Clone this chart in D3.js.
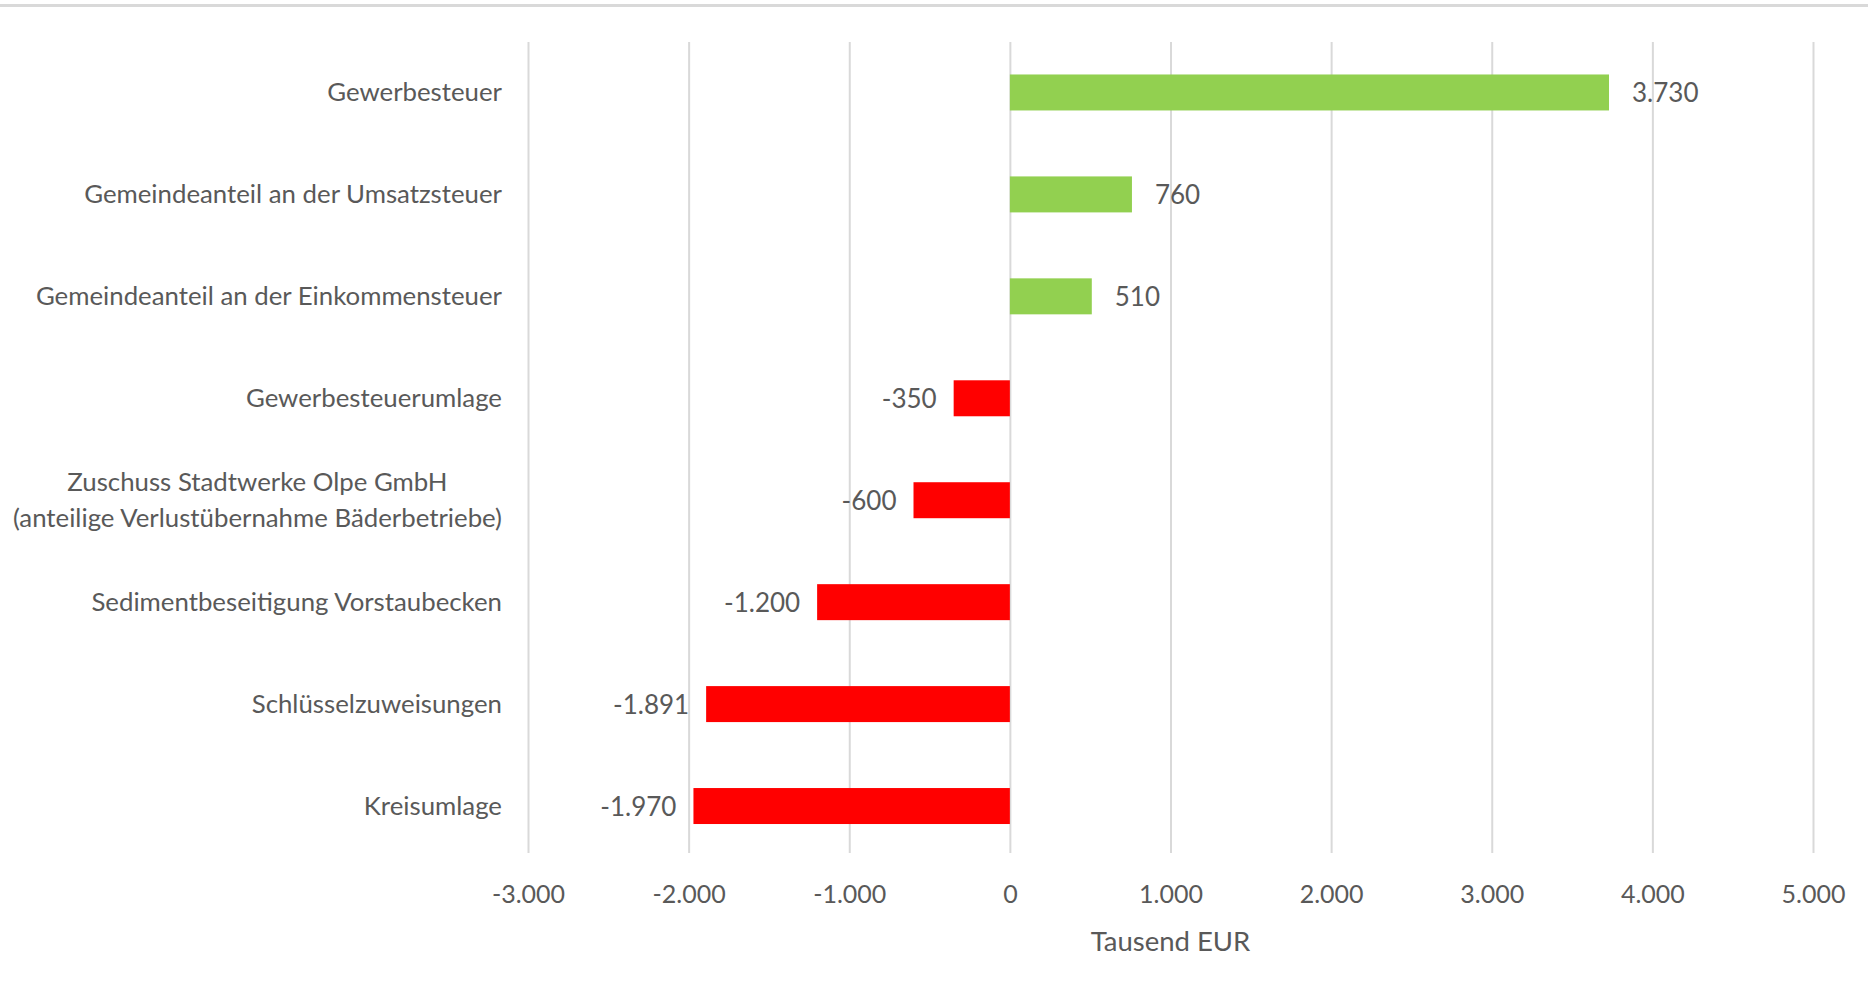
<!DOCTYPE html>
<html><head><meta charset="utf-8">
<script src="https://cdn.jsdelivr.net/npm/d3@7"></script>
<style>
html,body{margin:0;padding:0;background:#fff;}
svg{display:block;}
text{font-family:Lato,"Open Sans",sans-serif;fill:#595959;}
</style></head>
<body>
<svg id="chart" width="1868" height="995"></svg>
<script>
const categories = [
  ["Gewerbesteuer"],
  ["Gemeindeanteil an der Umsatzsteuer"],
  ["Gemeindeanteil an der Einkommensteuer"],
  ["Gewerbesteuerumlage"],
  ["Zuschuss Stadtwerke Olpe GmbH", "(anteilige Verlustübernahme Bäderbetriebe)"],
  ["Sedimentbeseitigung Vorstaubecken"],
  ["Schlüsselzuweisungen"],
  ["Kreisumlage"]
];
const values = [3730, 760, 510, -350, -600, -1200, -1891, -1970];
const xTicks = [-3000, -2000, -1000, 0, 1000, 2000, 3000, 4000, 5000];
const axisTitle = "Tausend EUR";

const W = 1868, H = 995;
const mLeft = 528, mRight = 1813, mTop = 42, mBottom = 853;

const de = d3.formatLocale({decimal: ",", thousands: ".", grouping: [3], currency: ["", " €"], minus: "-"});
const fmt = de.format(",.0f");

const svg = d3.select("#chart");
svg.append("rect").attr("x", 0).attr("y", 4).attr("width", W).attr("height", 3).attr("fill", "#d9d9d9");

const keys = categories.map((c, i) => i);
const x = d3.scaleLinear().domain([-3000, 5000]).range([mLeft, mRight]);
const y = d3.scaleBand().domain(keys).range([41.5, 857]).paddingInner(0.647).paddingOuter(0.3235);

// axis with gridlines
const ax = svg.append("g").attr("transform", `translate(0,${mBottom})`)
  .call(d3.axisBottom(x).tickValues(xTicks).tickFormat(fmt).tickSize(-(mBottom - mTop)).tickPadding(32));
ax.select(".domain").remove();
ax.selectAll(".tick line").attr("stroke", "#d9d9d9").attr("stroke-width", 2);
ax.selectAll(".tick text").attr("font-size", 25).attr("fill", "#595959").attr("font-family", "Lato, 'Open Sans', sans-serif");

// bars
svg.append("g").selectAll("rect").data(values).join("rect")
  .attr("x", d => x(Math.min(0, d)))
  .attr("width", d => Math.abs(x(d) - x(0)))
  .attr("y", (d, i) => y(i))
  .attr("height", y.bandwidth())
  .attr("fill", d => d >= 0 ? "#92d050" : "#ff0000");

// value labels
svg.append("g").selectAll("text").data(values).join("text")
  .attr("x", d => d >= 0 ? x(d) + 23 : x(d) - 17)
  .attr("y", (d, i) => y(i) + y.bandwidth() / 2)
  .attr("dy", "0.37em")
  .attr("text-anchor", d => d >= 0 ? "start" : "end")
  .attr("font-size", 26)
  .text(d => fmt(d));

// category labels (multi-line blocks right-aligned, lines centered within block)
const labelRight = mLeft - 26;
const cl = svg.append("g").selectAll("text").data(categories).join("text")
  .attr("font-size", 25.8)
  .attr("y", (d, i) => y(i) + y.bandwidth() / 2);
cl.each(function(lines) {
  const t = d3.select(this);
  const n = lines.length;
  const spans = lines.map((ln, j) => t.append("tspan")
      .attr("dy", j === 0 ? `${0.35 - (n - 1) * 0.7}em` : "1.4em")
      .text(ln));
  if (n === 1) {
    t.attr("text-anchor", "end");
    spans[0].attr("x", labelRight);
  } else {
    const maxW = d3.max(spans, s => s.node().getComputedTextLength());
    t.attr("text-anchor", "middle");
    spans.forEach(s => s.attr("x", labelRight - maxW / 2));
  }
});

// axis title
svg.append("text").attr("x", (mLeft + mRight) / 2).attr("y", 951)
  .attr("text-anchor", "middle").attr("font-size", 27.5).text(axisTitle);
</script>
</body></html>
